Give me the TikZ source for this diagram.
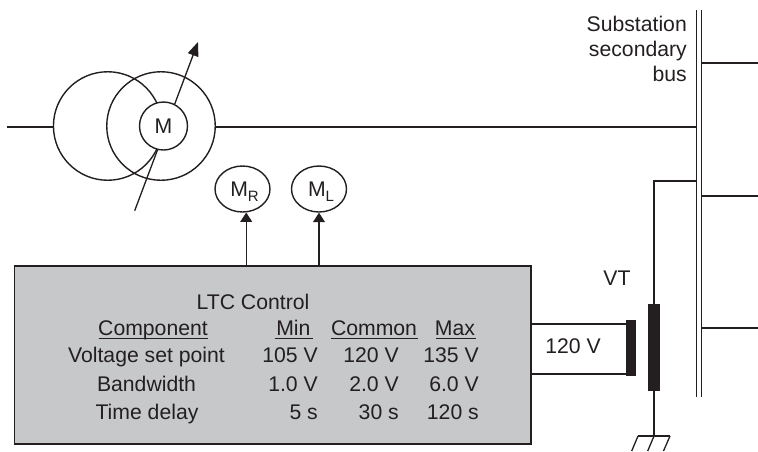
\documentclass[tikz,border=0pt]{standalone}
\usepackage{fontspec}
\setmainfont{Liberation Sans}
\usetikzlibrary{arrows.meta,shapes.geometric,calc}
\definecolor{ink}{HTML}{231F20}
\definecolor{panel}{HTML}{C7C8CA}
\tikzset{
  x=1pt,y=-1pt,
  every node/.style={text=ink,font=\fontsize{21.2}{24}\selectfont,inner sep=0pt},
  wire/.style={draw=ink,line width=1.3pt},
  heavy/.style={draw=ink,line width=2.4pt},
  core/.style={fill=ink,draw=none},
  coil/.style={circle,draw=ink,line width=1.4pt,minimum size=108.5pt},
  meter/.style={ellipse,draw=ink,line width=1.4pt,fill=white,minimum width=55pt,minimum height=46pt},
  arr/.style={wire,-{Triangle[length=9.5pt,width=12pt]}},
  cell/.style={anchor=base},
  val/.style={anchor=base east},
  rule/.style={draw=ink,line width=1.1pt}
}
\newcommand{\Msub}[1]{\hspace*{4pt}M\raisebox{-5.5pt}[0pt][0pt]{\fontsize{15}{15}\selectfont #1}}
\begin{document}
\begin{tikzpicture}
\useasboundingbox (0,0) rectangle (758,451);
% transformer
\coordinate (lineL) at (7,127);
\coordinate (arrS) at (134.7,210.7);
\coordinate (arrE) at (198,42);
\draw[wire,-{Triangle[length=14pt,width=11pt]}] (arrS) -- (arrE);
\node[coil] (lc) at (107.7,126) {};
\node[coil] (rc) at (161,126) {};
\node[circle,draw=ink,line width=1.4pt,fill=white,minimum size=48pt] (m) at (163.5,126) {M};
% bus
\coordinate (busAt) at (696.8,10);
\coordinate (busAb) at (696.8,397);
\coordinate (busBt) at (701.5,10);
\coordinate (busBb) at (701.5,397);
\draw[wire] (busAt) -- (busAb);
\draw[wire] (busBt) -- (busBb);
\draw[wire] (lineL) -- (lc.west |- lineL);
\draw[wire] (rc.east |- lineL) -- (lineL -| busAt);
\coordinate (fa) at (758,63);
\coordinate (fb) at (758,196);
\coordinate (fc) at (758,328);
\draw[wire] (fa -| busBt) -- (fa);
\draw[wire] (fb -| busBt) -- (fb);
\draw[wire] (fc -| busBt) -- (fc);
\node[anchor=base east] (subst) at (687,31) {Substation};
\node[anchor=base east] (secon) at (687,56) {secondary};
\node[anchor=base east] (busl) at (687,81.5) {bus};
% control box
\node[draw=ink,line width=1.5pt,fill=panel,minimum width=516.5pt,minimum height=178pt] (box) at (272.8,355) {};
\node[meter] (mr) at (242.5,189) {\Msub{R}};
\node[meter] (ml) at (319,189) {\Msub{L}};
\draw[arr] (box.north -| mr.-81) -- (mr.-81);
\draw[arr] (box.north -| ml.south) -- (ml.south);
\node[cell] (ttl) at (253,309) {LTC Control};
\node[cell] (h1) at (153,335) {Component};
\node[cell] (h2) at (293.4,335) {Min};
\node[cell] (h3) at (374,335) {Common};
\node[cell] (h4) at (455,335) {Max};
\draw[rule] (98.5,338.7) -- (208,338.7);
\draw[rule] (274.5,338.7) -- (312.7,338.7);
\draw[rule] (331,338.7) -- (418,338.7);
\draw[rule] (435.6,338.7) -- (476,338.7);
\node[cell] (r1) at (146.5,362) {Voltage set point};
\node[val] (r1a) at (318,362) {105 V};
\node[val] (r1b) at (399,362) {120 V};
\node[val] (r1c) at (479,362) {135 V};
\node[cell] (r2) at (146.5,391) {Bandwidth};
\node[val] (r2a) at (318,391) {1.0 V};
\node[val] (r2b) at (399,391) {2.0 V};
\node[val] (r2c) at (479,391) {6.0 V};
\node[cell] (r3) at (147,419) {Time delay};
\node[val] (r3a) at (318,419) {5 s};
\node[val] (r3b) at (399,419) {30 s};
\node[val] (r3c) at (479,419) {120 s};
% VT
\node[core,minimum width=10pt,minimum height=56pt] (sec) at (631,348) {};
\node[core,minimum width=12pt,minimum height=87pt] (pri) at (654,347.5) {};
\draw[wire] ($(sec.west)+(0,-24)$) -- (box.east |- 0,324);
\draw[wire] ($(sec.west)+(0,26)$) -- (box.east |- 0,374);
\coordinate (tap) at (654,181);
\draw[heavy,line join=miter] (pri.north) -- (tap) -- (tap -| busAt);
\coordinate (gnd) at (654,436);
\draw[wire,line width=1.6pt] (pri.south) -- (gnd);
\coordinate (gl) at (638,436);
\coordinate (gr) at (670,436);
\draw[wire,line width=1.6pt] (gl) -- (gr);
\coordinate (gla) at (631.7,451);
\coordinate (gma) at (647.7,451);
\coordinate (gra) at (663.5,451);
\draw[wire] (gl) -- (gla);
\draw[wire] (gnd) -- (gma);
\draw[wire] (gr) -- (gra);
\node[anchor=center] (v120) at (573,346.5) {120 V};
\node[anchor=center] (vt) at (617,278) {VT};
\end{tikzpicture}
\end{document}
